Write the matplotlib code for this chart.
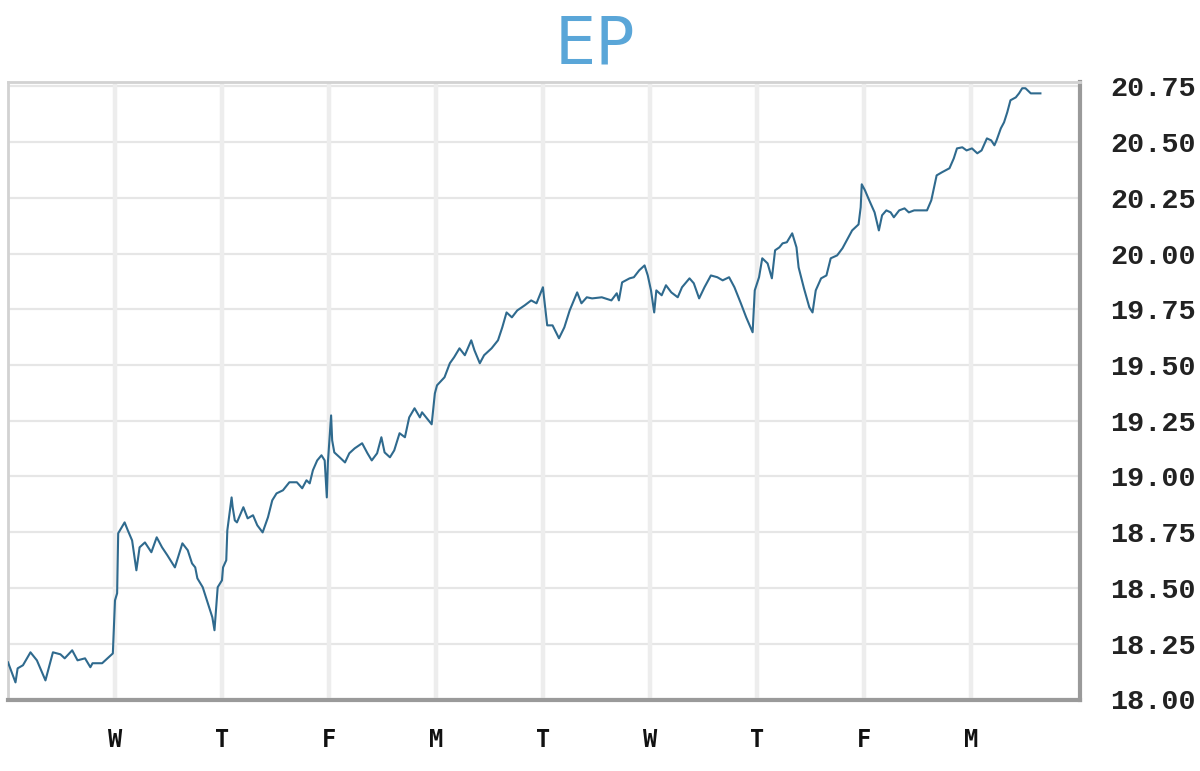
import matplotlib
matplotlib.use("Agg")
import matplotlib.pyplot as plt

title = "EP"
day_labels = ["W", "T", "F", "M", "T", "W", "T", "F", "M"]
y_ticks = [18.00, 18.25, 18.50, 18.75, 19.00, 19.25, 19.50, 19.75, 20.00, 20.25, 20.50, 20.75]

# time in trading days from the start of the first session (day boundaries at integers)
t = [0.00, 0.07, 0.09, 0.14, 0.21, 0.27, 0.35, 0.42, 0.49, 0.53, 0.60, 0.65, 0.72, 0.77, 0.79, 0.88, 0.98,
     1.00, 1.02, 1.03, 1.09, 1.12, 1.16, 1.20, 1.23, 1.28, 1.34, 1.39, 1.44, 1.49, 1.56, 1.63, 1.68, 1.72,
     1.75, 1.77, 1.82, 1.91, 1.93, 1.96, 2.00, 2.01, 2.04, 2.05, 2.09, 2.10, 2.12, 2.14, 2.20, 2.24, 2.29,
     2.33, 2.38, 2.43, 2.47, 2.51, 2.57, 2.63, 2.70, 2.75, 2.79, 2.82, 2.85, 2.89, 2.93, 2.96, 2.98, 2.99,
     3.02, 3.03, 3.05, 3.10, 3.15, 3.19, 3.24, 3.31, 3.33, 3.36, 3.40, 3.45, 3.49, 3.52, 3.57, 3.61, 3.66,
     3.71, 3.75, 3.80, 3.85, 3.87, 3.96, 3.99, 4.01, 4.08, 4.13, 4.17, 4.22, 4.27, 4.33, 4.36, 4.41, 4.45,
     4.52, 4.58, 4.62, 4.66, 4.71, 4.76, 4.83, 4.89, 4.94, 5.00, 5.01, 5.04, 5.09, 5.15, 5.20, 5.25, 5.32,
     5.36, 5.41, 5.46, 5.55, 5.64, 5.69, 5.71, 5.74, 5.81, 5.85, 5.90, 5.95, 5.98, 6.01, 6.04, 6.06, 6.11,
     6.15, 6.20, 6.26, 6.30, 6.37, 6.41, 6.46, 6.51, 6.57, 6.63, 6.68, 6.74, 6.79, 6.85, 6.90, 6.96, 6.98,
     7.02, 7.05, 7.10, 7.14, 7.17, 7.21, 7.24, 7.28, 7.33, 7.37, 7.39, 7.44, 7.49, 7.52, 7.55, 7.60, 7.65,
     7.69, 7.75, 7.80, 7.84, 7.89, 7.95, 7.97, 7.98, 8.01, 8.05, 8.10, 8.14, 8.17, 8.21, 8.25, 8.28, 8.33,
     8.38, 8.42, 8.47, 8.53, 8.59, 8.63, 8.66, 8.68, 8.73, 8.80, 8.84, 8.87, 8.92, 8.96, 9.01, 9.06, 9.10,
     9.15, 9.19, 9.22, 9.24, 9.28, 9.31, 9.34, 9.37, 9.42, 9.45, 9.48, 9.51, 9.56, 9.61, 9.65]

price = [18.166, 18.076, 18.139, 18.153, 18.211, 18.175, 18.085, 18.211, 18.202, 18.184, 18.220, 18.175,
         18.184, 18.144, 18.162, 18.162, 18.206,
         18.444, 18.476, 18.745, 18.794, 18.758, 18.713, 18.579, 18.682, 18.704, 18.660, 18.727, 18.682,
         18.646, 18.592, 18.700, 18.669, 18.610, 18.592, 18.543, 18.503, 18.368, 18.310, 18.503,
         18.534, 18.592, 18.624, 18.758, 18.906, 18.862, 18.803, 18.794, 18.862, 18.812, 18.826, 18.781,
         18.749, 18.817, 18.893, 18.924, 18.938, 18.974, 18.974, 18.947, 18.983, 18.969, 19.028, 19.072,
         19.095, 19.072, 18.906, 19.063,
         19.274, 19.162, 19.108, 19.086, 19.063, 19.104, 19.126, 19.149, 19.131, 19.104, 19.072, 19.104,
         19.176, 19.108, 19.086, 19.117, 19.194, 19.176, 19.265, 19.306, 19.265, 19.288, 19.234, 19.373,
         19.409, 19.445, 19.508, 19.535, 19.575, 19.544, 19.611, 19.566, 19.508, 19.544, 19.575, 19.611,
         19.669, 19.736, 19.714, 19.745, 19.768, 19.790, 19.777,
         19.849, 19.804, 19.678, 19.678, 19.620, 19.669, 19.745, 19.826, 19.777, 19.804, 19.799, 19.804,
         19.790, 19.822, 19.790, 19.871, 19.889, 19.894, 19.925, 19.947, 19.902,
         19.835, 19.736, 19.835, 19.813, 19.858, 19.826, 19.804, 19.849, 19.889, 19.867, 19.799, 19.849,
         19.902, 19.894, 19.880, 19.894, 19.849, 19.777, 19.714, 19.647, 19.835,
         19.894, 19.979, 19.956, 19.889, 20.015, 20.028, 20.046, 20.051, 20.091, 20.028, 19.938, 19.844,
         19.759, 19.736, 19.835, 19.889, 19.902, 19.979, 19.992, 20.024, 20.060, 20.104, 20.131, 20.208,
         20.311,
         20.284, 20.239, 20.185, 20.104, 20.172, 20.194, 20.185, 20.163, 20.194, 20.203, 20.185, 20.194,
         20.194, 20.194, 20.239, 20.306, 20.351, 20.365, 20.383, 20.427, 20.472, 20.477, 20.463,
         20.472, 20.450, 20.463, 20.517, 20.508, 20.486, 20.508, 20.562, 20.589, 20.634, 20.688, 20.701,
         20.719, 20.742, 20.742, 20.719, 20.719, 20.719]

W, H = 1200, 771
fig = plt.figure(figsize=(W / 100, H / 100), dpi=100)
fig.patch.set_facecolor("white")

left, right, top, bottom = 8, 1080, 82, 700
ax = fig.add_axes([left / W, 1 - bottom / H, (right - left) / W, (bottom - top) / H])
ax.set_facecolor("white")

ax.plot(t, price, color="#2f6a8e", linewidth=1.5, solid_joinstyle="round", zorder=3)

ax.set_xlim(0, 10.02)
ax.set_ylim(17.997, 20.77)

ax.set_xticks(range(1, len(day_labels) + 1))
ax.set_xticklabels(day_labels, fontfamily="DejaVu Sans Mono", fontweight="bold", fontsize=17, color="#111111")
ax.set_yticks(y_ticks)
ax.set_yticklabels([f"{v:.2f}" for v in y_ticks], fontfamily="Liberation Mono", fontweight="bold",
                   fontsize=20.5, color="#222222")
ax.yaxis.tick_right()
ax.tick_params(axis="y", length=0, pad=22)
ax.tick_params(axis="x", length=0, pad=20)

for v in y_ticks:
    ax.axhline(v, color="#e6e6e6", linewidth=1.6, zorder=1)
for d in range(1, len(day_labels) + 1):
    ax.axvline(d, color="#ededed", linewidth=3.2, zorder=1)

for side in ["top", "left"]:
    ax.spines[side].set_color("#d2d2d2")
    ax.spines[side].set_linewidth(2.0)
for side in ["bottom", "right"]:
    ax.spines[side].set_color("#9a9a9a")
    ax.spines[side].set_linewidth(3.0)

fig.text(0.496, 0.941, title, ha="center", va="center", fontsize=47, color="#5aa6d8",
         fontfamily="DejaVu Sans")

fig.savefig("out.png", dpi=100)
